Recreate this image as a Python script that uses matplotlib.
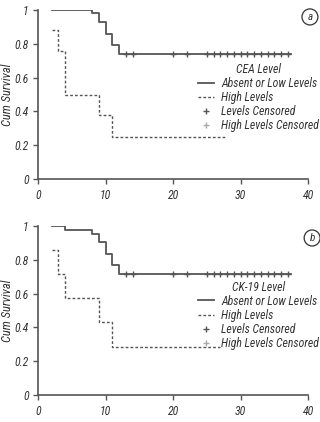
import matplotlib
matplotlib.use("Agg")
import matplotlib.pyplot as plt
import numpy as np
from matplotlib import font_manager as fm
from matplotlib.lines import Line2D
from matplotlib.patches import Ellipse

# pick a narrow sans if one is around, else a regular one
installed = {f.name for f in fm.fontManager.ttflist}
FONT = next((f for f in ["Roboto Condensed", "Archivo Narrow", "PT Sans Narrow",
                         "Liberation Sans"] if f in installed), "DejaVu Sans")
plt.rcParams["font.family"] = [FONT, "DejaVu Sans"]
plt.rcParams["font.style"] = "italic"

# Panel a: CEA level
a_low_time = [2, 8, 9, 10, 11, 12]
a_low_surv = [1.0, 0.98, 0.93, 0.86, 0.79, 0.74]
a_low_end = 37.5
a_low_cens = [13, 14, 20, 22, 25, 26, 27, 28, 29, 30, 31, 32, 33, 34, 35, 36, 37]
a_high_time = [2, 3, 4, 9, 11]
a_high_surv = [0.88, 0.76, 0.50, 0.38, 0.25]
a_high_end = 28

# Panel b: CK-19 level
b_low_time = [2, 4, 8, 9, 10, 11, 12]
b_low_surv = [1.0, 0.975, 0.955, 0.905, 0.835, 0.77, 0.715]
b_low_end = 37.5
b_low_cens = [13, 14, 20, 22, 25, 26, 27, 28, 29, 30, 31, 32, 33, 34, 35, 36, 37]
b_high_time = [2, 3, 4, 9, 11]
b_high_surv = [0.857, 0.714, 0.571, 0.429, 0.286]
b_high_end = 27

panels = [
    ("CEA Level", "a", a_low_time, a_low_surv, a_low_end, a_low_cens,
     a_high_time, a_high_surv, a_high_end),
    ("CK-19 Level", "b", b_low_time, b_low_surv, b_low_end, b_low_cens,
     b_high_time, b_high_surv, b_high_end),
]
letter_xy = [(1.007, 0.959), (1.015, 0.929)]
legend_top = [0.685, 0.675]

LINE = "#555555"
TXT = "#333333"
DASH = (0, (2, 1.5))

fig = plt.figure(figsize=(3.2, 4.22), dpi=100)
axes_pos = [[0.119, 0.5758, 0.8437, 0.4005], [0.119, 0.064, 0.8437, 0.4005]]

for pos, lxy, ltop, (title, letter, lt, ls, lend, lc, ht, hs, hend) in zip(
        axes_pos, letter_xy, legend_top, panels):
    ax = fig.add_axes(pos)
    ax.step(lt + [lend], ls + [ls[-1]], where="post", color=LINE, lw=1.3)
    ax.step(ht + [hend], hs + [hs[-1]], where="post", color=LINE, lw=1.0, linestyle=DASH)
    # censored cases sit on the low-level curve
    cens_y = [ls[np.searchsorted(lt, c, side="right") - 1] for c in lc]
    ax.plot(lc, cens_y, linestyle="none", marker="+", color=LINE, ms=4, mew=1)

    ax.set_xlim(0, 40)
    ax.set_ylim(0, 1)
    ax.set_xticks([0, 10, 20, 30, 40])
    ax.set_yticks([0, 0.2, 0.4, 0.6, 0.8, 1])
    ax.set_yticklabels(["0", "0.2", "0.4", "0.6", "0.8", "1"])
    ax.tick_params(direction="out", length=3.3, width=1, colors=LINE,
                   labelcolor=TXT, labelsize=8.5)
    ax.tick_params(axis="x", pad=4)
    ax.tick_params(axis="y", pad=3.5)
    ax.spines[["top", "right"]].set_visible(False)
    for s in ["left", "bottom"]:
        ax.spines[s].set_color(LINE)
        ax.spines[s].set_linewidth(1.2)
    ax.set_ylabel("Cum Survival", fontsize=9, color=TXT, va="center")
    ax.yaxis.set_label_coords(-0.113, 0.5)

    handles = [
        Line2D([], [], color=LINE, lw=1.3),
        Line2D([], [], color=LINE, lw=1.0, linestyle=DASH),
        Line2D([], [], color=LINE, linestyle="none", marker="+", ms=4),
        Line2D([], [], color="#aaaaaa", linestyle="none", marker="+", ms=4),
    ]
    labels = ["Absent or Low Levels", "High Levels", "Levels Censored",
              "High Levels Censored"]
    leg = ax.legend(handles, labels, title=title, loc="upper left",
                    bbox_to_anchor=(0.593, ltop), frameon=False, fontsize=8.5,
                    title_fontsize=8.5, handlelength=1.35, handletextpad=0.6,
                    labelspacing=0.1, borderpad=0, borderaxespad=0)
    leg._legend_box.sep = 0.5
    for t in leg.get_texts():
        t.set_color(TXT)
    leg.get_title().set_color(TXT)

    ax.add_patch(Ellipse(lxy, 0.059, 0.095, transform=ax.transAxes,
                         fill=False, ec=TXT, lw=0.9, clip_on=False))
    ax.text(lxy[0], lxy[1], letter, transform=ax.transAxes, ha="center",
            va="center", fontsize=8, color=TXT)

fig.savefig("out.png", dpi=100)
